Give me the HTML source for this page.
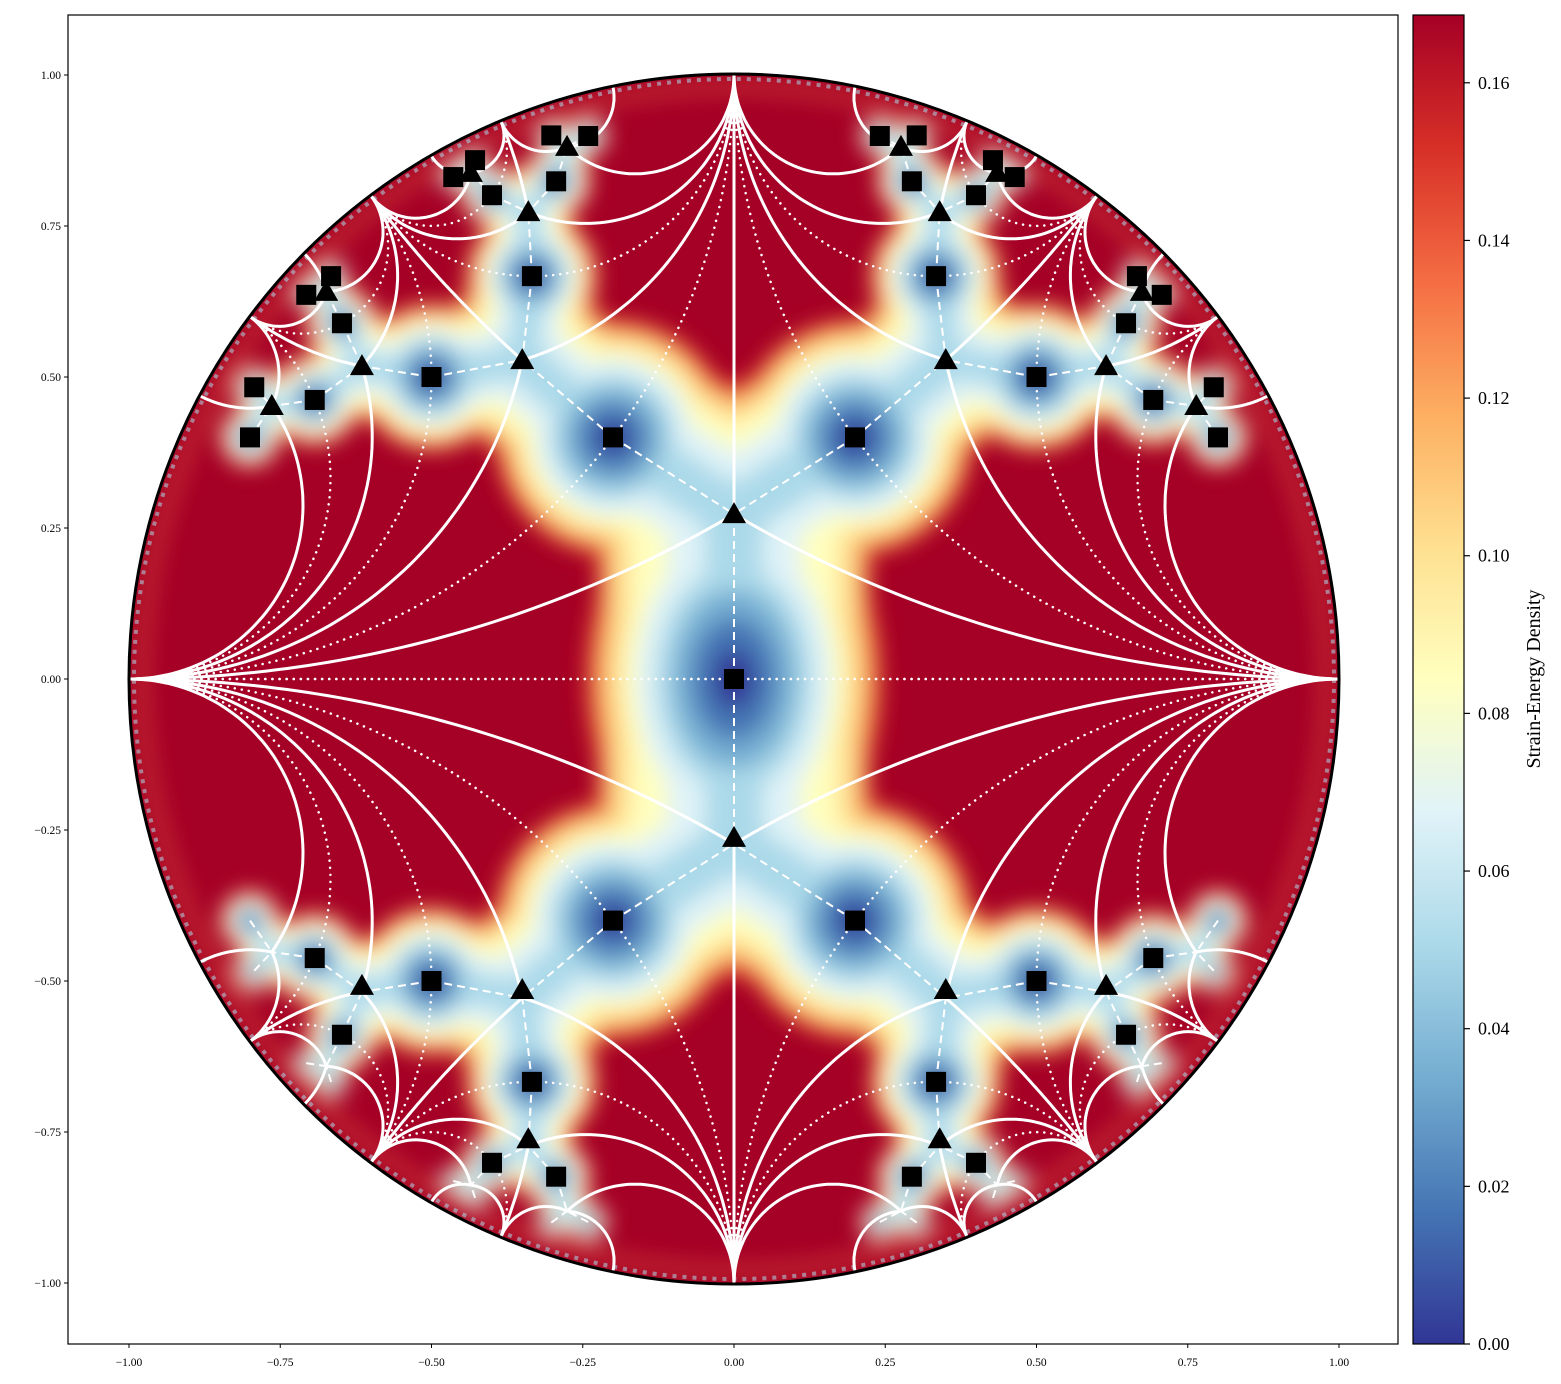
<!DOCTYPE html>
<html><head><meta charset="utf-8"><style>
html,body{margin:0;padding:0;background:#fff;}
svg{display:block;font-family:"Liberation Serif",serif;}
</style></head><body>
<svg id="chart" width="1561" height="1384" viewBox="0 0 1561 1384" xmlns="http://www.w3.org/2000/svg">
<defs>
<clipPath id="diskclip"><circle cx="734" cy="679" r="605"/></clipPath>
<filter id="blur" x="-10%" y="-10%" width="120%" height="120%"><feGaussianBlur stdDeviation="11"/></filter>
<linearGradient id="cbgrad" x1="0" y1="1" x2="0" y2="0">
<stop offset="0" stop-color="#313695"/><stop offset="0.1" stop-color="#4575b4"/><stop offset="0.2" stop-color="#74add1"/><stop offset="0.3" stop-color="#abd9e9"/><stop offset="0.4" stop-color="#e0f3f8"/><stop offset="0.5" stop-color="#ffffbf"/><stop offset="0.6" stop-color="#fee090"/><stop offset="0.7" stop-color="#fdae61"/><stop offset="0.8" stop-color="#f46d43"/><stop offset="0.9" stop-color="#d73027"/><stop offset="1" stop-color="#a50026"/>
</linearGradient>
</defs>
<rect x="68" y="15" width="1330" height="1329" fill="#fff"/>
<g id="disk" clip-path="url(#diskclip)"></g>
<g id="lines"></g>
<g id="marks"></g>
<circle cx="734" cy="679" r="605" fill="none" stroke="#000" stroke-width="3"/>
<rect x="68" y="15" width="1330" height="1329" fill="none" stroke="#000" stroke-width="1.2"/>
<g id="axes"></g>
<rect x="1413" y="15" width="51" height="1329" fill="url(#cbgrad)" stroke="#000" stroke-width="1.2"/>
<g id="cbticks"></g>
<text x="1540" y="679" font-size="20" text-anchor="middle" transform="rotate(-90 1540 679)">Strain-Energy Density</text>
</svg>
<script>
const NS="http://www.w3.org/2000/svg";
const squareX=[0,-0.2,0.2,-0.5,0.5,-0.334,0.334,-0.693,0.693,-0.648,0.648,-0.4,0.4,-0.294,0.294,-0.8,0.8,-0.793,0.793,-0.707,0.707,-0.666,0.666,-0.464,0.464,-0.428,0.428,-0.302,0.302,-0.241,0.241,
 -0.2,0.2,-0.5,0.5,-0.334,0.334,-0.693,0.693,-0.648,0.648,-0.4,0.4,-0.294,0.294];
const squareY=[0,0.4,0.4,0.5,0.5,0.667,0.667,0.462,0.462,0.589,0.589,0.801,0.801,0.824,0.824,0.4,0.4,0.483,0.483,0.636,0.636,0.667,0.667,0.831,0.831,0.859,0.859,0.9,0.9,0.899,0.899,
 -0.4,-0.4,-0.5,-0.5,-0.667,-0.667,-0.462,-0.462,-0.589,-0.589,-0.801,-0.801,-0.824,-0.824];
const triX=[0,-0.35,0.35,-0.615,0.615,-0.34,0.34,-0.764,0.764,-0.674,0.674,-0.276,0.276,-0.435,0.435,
 0,-0.35,0.35,-0.615,0.615,-0.34,0.34];
const triY=[0.273,0.528,0.528,0.518,0.518,0.773,0.773,0.452,0.452,0.641,0.641,0.881,0.881,0.838,0.838,
 -0.263,-0.515,-0.515,-0.508,-0.508,-0.762,-0.762];
const triLinks=[[0,0.273,[[0,1],[1,0]]],[0.35,0.528,[[0,1],[1,0],[0.6,0.8]]],[0.615,0.518,[[0.6,0.8],[1,0],[0.8,0.6]]],
 [0.34,0.773,[[0,1],[0.6,0.8],[0.385,0.923]]],[0.764,0.452,[[0.8,0.6],[1,0],[0.883,0.469]]],[0.674,0.641,[[0.6,0.8],[0.8,0.6],[0.71,0.704]]],
 [0.276,0.881,[[0,1],[0.385,0.923],[0.2,0.98]]],[0.435,0.838,[[0.385,0.923],[0.6,0.8],[0.5,0.866]]]];
const sqLinks=[[0,0,[[1,0]]],[0.2,0.4,[[0,1],[1,0]]],[0.5,0.5,[[0.6,0.8],[1,0]]],[0.334,0.667,[[0,1],[0.6,0.8]]],
 [0.693,0.462,[[0.8,0.6],[1,0]]],[0.4,0.801,[[0.6,0.8],[0.385,0.923]]],[0.648,0.589,[[0.6,0.8],[0.8,0.6]]]];
const cbTicks=[0,0.02,0.04,0.06,0.08,0.1,0.12,0.14,0.16];
const cbMax=0.1686;
const axTicks=[-1,-0.75,-0.5,-0.25,0,0.25,0.5,0.75,1];

const sx=v=>734+v*605, sy=v=>679-v*604;
function el(tag,attrs,parent){const e=document.createElementNS(NS,tag);for(const k in attrs)e.setAttribute(k,attrs[k]);parent.appendChild(e);return e;}
const disk=document.getElementById('disk'),lines=document.getElementById('lines'),marks=document.getElementById('marks');

const bg=el('rect',{x:129,y:74,width:1210,height:1210,fill:'#a50026'},disk);


const hs=[],ht=[];
for(let i=0;i<squareX.length;i++){if(squareY[i]>=0){hs.push([squareX[i],squareY[i]]);if(squareY[i]>0)hs.push([squareX[i],-squareY[i]]);}}
for(let i=0;i<triX.length;i++){if(triY[i]>0){ht.push([triX[i],triY[i]]);ht.push([triX[i],-triY[i]]);}}
const edges=[];
hs.forEach(s=>ht.forEach(t=>{const d=Math.hypot(s[0]-t[0],s[1]-t[1]);const mx=(s[0]+t[0])/2,my=(s[1]+t[1])/2;const f=1-(mx*mx+my*my);if(d<0.36*f)edges.push([s,t,f]);}));
const heat=el('g',{filter:'url(#blur)'},disk);


const rim1=el('circle',{cx:734,cy:679,r:592,fill:'none',stroke:'#f46d43','stroke-width':12,opacity:0.45},heat);


// [color, square radius, edge width, triangle radius, band half-width]
const layers=[['#d73027',150,250,80,0.23],['#fdae61',138,225,72,0.215],['#fee090',125,200,66,0.2],['#ffffbf',112,170,60,0.17],['#e0f3f8',98,120,52,0.11],['#abd9e9',78,60,30,0.04],['#74add1',62,0,0,0],['#4575b4',42,0,0,0],['#313695',20,0,0,0]];
layers.forEach(L=>{
  const g=el('g',{},heat);
  if(L[4]>0)el('rect',{x:sx(-L[4]),y:sy(0.3),width:2*L[4]*605,height:0.6*604,fill:L[0]},g);
  if(L[2]>0)edges.forEach(e=>{el('line',{x1:sx(e[0][0]),y1:sy(e[0][1]),x2:sx(e[1][0]),y2:sy(e[1][1]),stroke:L[0],'stroke-width':L[2]*e[2],'stroke-linecap':'round'},g);});
  hs.forEach(p=>{const f=1-(p[0]*p[0]+p[1]*p[1]);const c=(p[0]===0&&p[1]===0);el('ellipse',{cx:sx(p[0]),cy:sy(p[1]),rx:L[1]*f,ry:L[1]*f*(c?1.45:1),fill:L[0]},g);});
  if(L[3]>0)ht.forEach(p=>{const f=1-(p[0]*p[0]+p[1]*p[1]);el('circle',{cx:sx(p[0]),cy:sy(p[1]),r:L[3]*f,fill:L[0]},g);});
});
const rim2=el('circle',{cx:734,cy:679,r:600,fill:'none',stroke:'#abd9e9','stroke-width':4,'stroke-dasharray':'4 6',opacity:0.55},disk);



function circ3(a,b,c){const ax=a[0],ay=a[1],bx=b[0],by=b[1],cx=c[0],cy=c[1];const d=2*(ax*(by-cy)+bx*(cy-ay)+cx*(ay-by));if(Math.abs(d)<1e-9)return null;
 const ux=((ax*ax+ay*ay)*(by-cy)+(bx*bx+by*by)*(cy-ay)+(cx*cx+cy*cy)*(ay-by))/d;const uy=((ax*ax+ay*ay)*(cx-bx)+(bx*bx+by*by)*(ax-cx)+(cx*cx+cy*cy)*(bx-ax))/d;return [ux,uy,Math.hypot(ax-ux,ay-uy)];}
function geo(p,q,style,name){
  const r2=p[0]*p[0]+p[1]*p[1];let pts=[];
  const c=r2>1e-6?circ3(p,q,[p[0]/r2,p[1]/r2]):null;
  if(!c||c[2]>50){pts=[p,q];}else{let a1=Math.atan2(p[1]-c[1],p[0]-c[0]),a2=Math.atan2(q[1]-c[1],q[0]-c[0]);let da=a2-a1;while(da>Math.PI)da-=2*Math.PI;while(da<-Math.PI)da+=2*Math.PI;
    for(let i=0;i<=60;i++){const a=a1+da*i/60;pts.push([c[0]+c[2]*Math.cos(a),c[1]+c[2]*Math.sin(a)]);}}
  const e=el('polyline',Object.assign({points:pts.map(t=>sx(t[0]).toFixed(1)+','+sy(t[1]).toFixed(1)).join(' '),fill:'none',stroke:'#fff'},style),lines);
  
  
}
const solid={'stroke-width':3},dotted={'stroke-width':2.5,'stroke-dasharray':'0.1 7','stroke-linecap':'round'};
const signs=[[1,1],[-1,1],[1,-1],[-1,-1]];
triLinks.forEach(t=>signs.forEach(s=>{t[2].forEach(q=>geo([t[0]*s[0],t[1]*s[1]],[q[0]*s[0],q[1]*s[1]],solid,'solid-geodesic'));}));
sqLinks.forEach(t=>signs.forEach(s=>{t[2].forEach(q=>geo([t[0]*s[0],t[1]*s[1]],[q[0]*s[0],q[1]*s[1]],dotted,'dotted-geodesic'));}));
edges.forEach(e=>{const l=el('line',{x1:sx(e[0][0]),y1:sy(e[0][1]),x2:sx(e[1][0]),y2:sy(e[1][1]),stroke:'#fff','stroke-width':2,'stroke-dasharray':'8 5'},lines);
 
 });

for(let i=0;i<squareX.length;i++){const s=20;const r=el('rect',{x:sx(squareX[i])-s/2,y:sy(squareY[i])-s/2,width:s,height:s,fill:'#000'},marks);
 
 }
for(let i=0;i<triX.length;i++){const x=sx(triX[i]),y=sy(triY[i]);const p=el('polygon',{points:`${x},${y-12} ${x-12},${y+9} ${x+12},${y+9}`,fill:'#000'},marks);
 
 }

const ax=document.getElementById('axes');
const fmt=v=>(v<0?'\u2212':'')+Math.abs(v).toFixed(2);
axTicks.forEach(v=>{
 el('line',{x1:sx(v),y1:1344,x2:sx(v),y2:1348,stroke:'#000','stroke-width':1},ax);
 const t=el('text',{x:sx(v),y:1366,'font-size':11.5,'text-anchor':'middle'},ax);t.textContent=fmt(v);
 
 
 el('line',{x1:64,y1:sy(v),x2:68,y2:sy(v),stroke:'#000','stroke-width':1},ax);
 const u=el('text',{x:61,y:sy(v)+4,'font-size':11.5,'text-anchor':'end'},ax);u.textContent=fmt(v);
 
 
});
const cb=document.getElementById('cbticks');
cbTicks.forEach(v=>{const y=1344-v/cbMax*1329;
 el('line',{x1:1464,y1:y,x2:1470,y2:y,stroke:'#000','stroke-width':1.2},cb);
 const t=el('text',{x:1478,y:y+6,'font-size':18},cb);t.textContent=v.toFixed(2);
 
 });
</script>
</body></html>
